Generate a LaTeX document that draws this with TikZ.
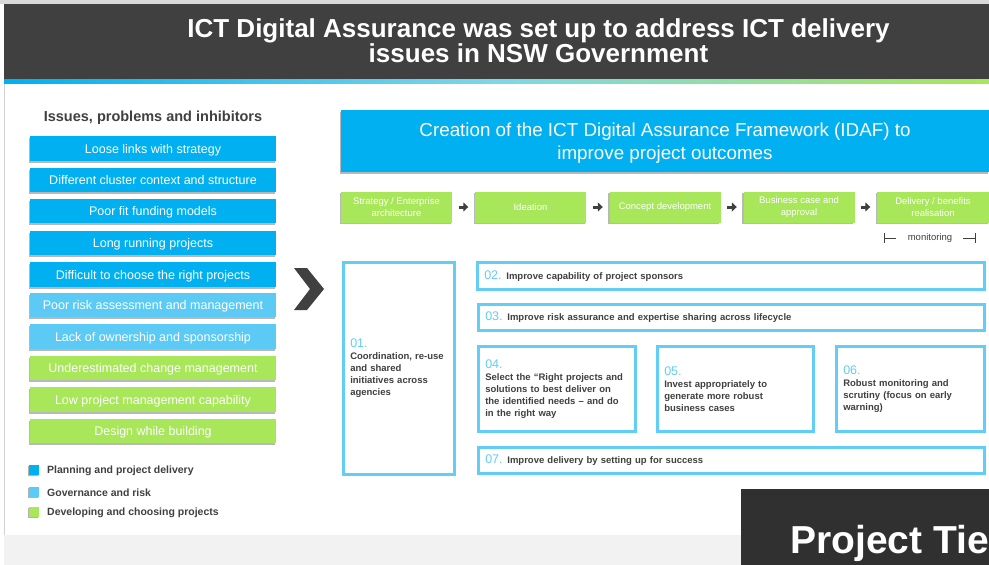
\documentclass[tikz,border=0pt]{standalone}
\usepackage{fontspec}
\setmainfont{Liberation Sans}
\usetikzlibrary{shadows,arrows.meta}
\definecolor{hdr}{HTML}{404040}
\definecolor{bluea}{HTML}{00B0F0}
\definecolor{blueb}{HTML}{5BCBF5}
\definecolor{greena}{HTML}{A8E65A}
\definecolor{txtd}{HTML}{404040}
\definecolor{outl}{HTML}{62CDF5}
\definecolor{bandgray}{HTML}{F2F2F2}
\definecolor{tiedark}{HTML}{303030}
\definecolor{gradmid}{HTML}{7FD6E8}
\newcommand\fs[2]{\fontsize{#1}{#2}\selectfont}
\newcommand\numb[1]{{\color{outl}\mdseries\fontsize{12.5}{12}\selectfont #1}}
\begin{document}
\begin{tikzpicture}[x=1pt,y=-1pt,
  softshadow/.style={drop shadow={shadow xshift=-1.5pt, shadow yshift=-1.8pt, opacity=0.28, fill=black}},
  issue/.style={rectangle, minimum width=246pt, minimum height=24.5pt, inner sep=0pt, text height=9pt, text depth=0pt, text=white, font=\fs{12.5}{14}, softshadow},
  legsq/.style={rectangle, minimum width=10pt, minimum height=10pt, inner sep=0pt, drop shadow={shadow xshift=-1.5pt, shadow yshift=-1pt, opacity=0.3, fill=black}},
  legtxt/.style={anchor=west, inner sep=0pt, text=txtd, font=\bfseries\fs{10.5}{12}},
  proc/.style={rectangle, fill=greena, text=white, font=\fs{9.5}{11.5}, align=center, minimum width=111pt, minimum height=31pt, inner sep=0pt, softshadow},
  procarrow/.style={draw=hdr, line width=3pt, -{Triangle[length=5pt,width=9pt]}, shorten <=6.5pt, shorten >=6.5pt},
  fbox/.style={rectangle, draw=outl, line width=2.5pt, fill=white, anchor=north west, inner xsep=7pt, inner ysep=0pt, align=left, text=txtd, font=\bfseries\fs{9.5}{12}, drop shadow={shadow xshift=-1pt, shadow yshift=-1.2pt, opacity=0.12, fill=black}}
]
\useasboundingbox (0,0) rectangle (989,565);
\fill[white] (0,0) rectangle (989,565);
% frame and header
\fill[gray!30] (0,0) rectangle (989,4);
\draw[gray!35, line width=1pt] (4,83) -- (4,565);
\fill[hdr] (4,4) rectangle (989,79);
\shade[left color=bluea, right color=greena, middle color=gradmid] (4,79) rectangle (989,83);
\node[anchor=base, text=white, font=\bfseries\fs{26}{26}, inner sep=0pt] (t1) at (538.5,37) {ICT Digital Assurance was set up to address ICT delivery};
\node[anchor=base, text=white, font=\bfseries\fs{26}{26}, inner sep=0pt] (t2) at (538.5,62) {issues in NSW Government};
% bottom band
\fill[bandgray] (4,535) rectangle (741,565);
% left panel
\node[font=\bfseries\fs{14.5}{16}, text=txtd, inner sep=0pt] (ipi) at (153,118) {Issues, problems and inhibitors};
\node[issue, fill=bluea] (i1) at (153,148.5) {Loose links with strategy};
\node[issue, fill=bluea] (i2) at (153,180) {Different cluster context and structure};
\node[issue, fill=bluea] (i3) at (153,211) {Poor fit funding models};
\node[issue, fill=bluea] (i4) at (153,243) {Long running projects};
\node[issue, fill=bluea] (i5) at (153,274.5) {Difficult to choose the right projects};
\node[issue, fill=blueb] (i6) at (153,305) {Poor risk assessment and management};
\node[issue, fill=blueb] (i7) at (153,336.5) {Lack of ownership and sponsorship};
\node[issue, fill=greena] (i8) at (153,368) {Underestimated change management};
\node[issue, fill=greena] (i9) at (153,399.5) {Low project management capability};
\node[issue, fill=greena] (i10) at (153,431) {Design while building};
% legend
\node[legsq, fill=bluea] (l1) at (34,470) {};
\node[legtxt] (lt1) at (47,471) {Planning and project delivery};
\node[legsq, fill=blueb] (l2) at (34,492) {};
\node[legtxt] (lt2) at (47,492.5) {Governance and risk};
\node[legsq, fill=greena] (l3) at (34,512) {};
\node[legtxt] (lt3) at (47,513) {Developing and choosing projects};
% chevron
\fill[hdr] (294,268) -- (307,268) -- (324,289) -- (307,310) -- (294,310) -- (310,289) -- cycle;
% banner
\node[rectangle, fill=bluea, anchor=north west, minimum width=648pt, minimum height=62pt, inner sep=0pt, softshadow] (banner) at (341,110) {};
\node[align=center, text=white, font=\fs{18.8}{23}, inner sep=0pt] (bannertxt) at (665,143) {Creation of the ICT Digital Assurance Framework (IDAF) to\\improve project outcomes};
% process
\node[proc] (p1) at (396.5,207) {Strategy / Enterprise\\architecture};
\node[proc] (p2) at (530.5,207) {Ideation};
\node[proc] (p3) at (665,207) {Concept development};
\node[proc] (p4) at (799,207) {Business case and\\approval};
\node[proc, minimum width=112pt] (p5) at (933,207) {Delivery / benefits\\realisation};
\draw[procarrow] (p1.east) -- (p2.west);
\draw[procarrow] (p2.east) -- (p3.west);
\draw[procarrow] (p3.east) -- (p4.west);
\draw[procarrow] (p4.east) -- (p5.west);
% monitoring
\node[font=\fs{9.5}{11}, text=txtd, inner sep=0pt] (mon) at (930,238) {monitoring};
\coordinate (ml) at (884,238);
\coordinate (mr) at (975,238);
\draw[txtd, line width=0.6pt] (ml) ++(0,-5) -- ++(0,10);
\draw[txtd, line width=0.6pt] (ml) -- ++(12,0);
\draw[txtd, line width=0.6pt] (mr) ++(0,-5) -- ++(0,10);
\draw[txtd, line width=0.6pt] (mr) -- ++(-12,0);
% framework boxes
\node[fbox, minimum width=111pt, minimum height=212pt, text width=97pt] (f1) at (342,261) {\numb{01.}\\Coordination, re-use\\and shared\\initiatives across\\agencies};
\node[fbox, minimum width=507pt, minimum height=27pt, text width=493pt] (f2) at (476,261) {\numb{02.} Improve capability of project sponsors};
\node[fbox, minimum width=506pt, minimum height=26pt, text width=492pt] (f3) at (477,303) {\numb{03.} Improve risk assurance and expertise sharing across lifecycle};
\node[fbox, minimum width=157pt, minimum height=85pt, text width=143pt] (f4) at (477,345) {\numb{04.}\\Select the \textquotedblleft Right projects and\\solutions to best deliver on\\the identified needs -- and do\\in the right way};
\node[fbox, minimum width=156pt, minimum height=85pt, text width=142pt] (f5) at (656,345) {\numb{05.}\\Invest appropriately to\\generate more robust\\business cases};
\node[fbox, minimum width=148pt, minimum height=85pt, text width=134pt] (f6) at (835,345) {\numb{06.}\\Robust monitoring and\\scrutiny (focus on early\\warning)};
\node[fbox, minimum width=506pt, minimum height=26pt, text width=492pt] (f7) at (477,446) {\numb{07.} Improve delivery by setting up for success};
% project tiers box
\node[rectangle, fill=tiedark, anchor=north west, minimum width=248pt, minimum height=76pt, inner sep=0pt] (tie) at (741,489) {};
\node[anchor=base west, text=white, font=\bfseries\fs{39}{39}, inner sep=0pt] (tiet) at (790,553) {Project Tie};
\end{tikzpicture}
\end{document}
